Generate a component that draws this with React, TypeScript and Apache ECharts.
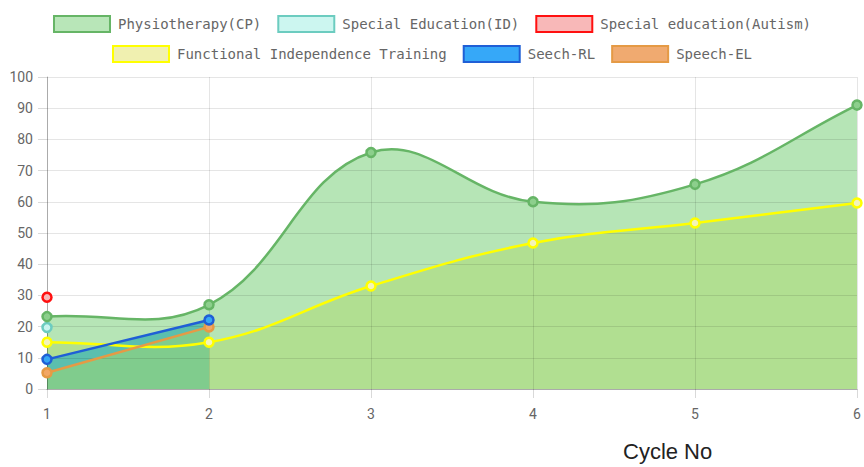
import React, { useEffect, useRef } from "react";
import * as echarts from "echarts";

const cycles = ["1", "2", "3", "4", "5", "6"];
const physiotherapyCP = [23.2, 27, 75.8, 60, 65.6, 91];
const specialEducationID = [19.7, null, null, null, null, null];
const specialEducationAutism = [29.4, null, null, null, null, null];
const functionalIndependence = [15, 15, 33, 46.8, 53.2, 59.6];
const seechRL = [9.5, 22.1, null, null, null, null];
const speechEL = [5.2, 19.9, null, null, null, null];
const yTicks = { min: 0, max: 100, interval: 10 };

const legendRow1 = ["Physiotherapy(CP)", "Special Education(ID)", "Special education(Autism)"];
const legendRow2 = ["Functional Independence Training", "Seech-RL", "Speech-EL"];

const styles: Record<string, { line: string; fill: string; box: string; area?: string }> = {
  "Physiotherapy(CP)": { line: "#66b566", fill: "#8ccf8c", box: "#b8e6b8", area: "#b6e5b6" },
  "Special Education(ID)": { line: "#6cccc0", fill: "#c9f5ef", box: "#ccf6f0" },
  "Special education(Autism)": { line: "#ff1010", fill: "#f8b8b8", box: "#f8b8b8" },
  "Functional Independence Training": { line: "#ffff00", fill: "#f4f4b8", box: "#f0f0b0", area: "#b1df91" },
  "Seech-RL": { line: "#1f5fd6", fill: "#36a7f5", box: "#36a8f8", area: "#5bbfae" },
  "Speech-EL": { line: "#e59a45", fill: "#f2a765", box: "#f0aa70", area: "#80cc8d" },
};

const TENSION = 0.4;

// Chart.js-style cardinal spline through points in pixel space
function splinePath(pts: number[][], t: number): string {
  const n = pts.length;
  const cpPrev: number[][] = [];
  const cpNext: number[][] = [];
  for (let i = 0; i < n; i++) {
    const cur = pts[i];
    const prev = pts[i - 1] || cur;
    const next = pts[i + 1] || cur;
    const d01 = Math.hypot(cur[0] - prev[0], cur[1] - prev[1]);
    const d12 = Math.hypot(next[0] - cur[0], next[1] - cur[1]);
    let s01 = d01 / (d01 + d12);
    let s12 = d12 / (d01 + d12);
    if (!isFinite(s01)) s01 = 0;
    if (!isFinite(s12)) s12 = 0;
    const fa = t * s01;
    const fb = t * s12;
    cpPrev.push([cur[0] - fa * (next[0] - prev[0]), cur[1] - fa * (next[1] - prev[1])]);
    cpNext.push([cur[0] + fb * (next[0] - prev[0]), cur[1] + fb * (next[1] - prev[1])]);
  }
  let d = `M${pts[0][0]},${pts[0][1]}`;
  for (let i = 1; i < n; i++) {
    d += ` C${cpNext[i - 1][0]},${cpNext[i - 1][1]} ${cpPrev[i][0]},${cpPrev[i][1]} ${pts[i][0]},${pts[i][1]}`;
  }
  return d;
}

function smoothSeries(name: string, values: number[], mode: "area" | "line", z: number) {
  return {
    type: "custom",
    name: mode + "-" + name,
    coordinateSystem: "cartesian2d",
    data: [[0, 0]],
    encode: { x: 0, y: 1 },
    z,
    silent: true,
    clip: false,
    renderItem: (_params: any, api: any) => {
      const pts = values.map((v, i) => api.coord([i, v]));
      const line = splinePath(pts, TENSION);
      if (mode === "area") {
        const base0 = api.coord([0, 0]);
        const baseN = api.coord([values.length - 1, 0]);
        const d = `${line} L${baseN[0]},${baseN[1]} L${base0[0]},${base0[1]} Z`;
        return { type: "path", shape: { pathData: d }, style: { fill: styles[name].area, stroke: null } };
      }
      return {
        type: "path",
        shape: { pathData: line },
        style: { fill: null, stroke: styles[name].line, lineWidth: 2.5 },
      };
    },
  };
}

function straightSeries(name: string, data: (number | null)[], withArea: boolean, z: number) {
  return {
    type: "line",
    name: withArea ? "area-" + name : name,
    data,
    z,
    symbol: withArea ? "none" : "circle",
    symbolSize: 9,
    showSymbol: !withArea,
    showAllSymbol: true,
    silent: withArea,
    lineStyle: withArea ? { width: 0, opacity: 0 } : { color: styles[name].line, width: 2.5 },
    areaStyle: withArea ? { color: styles[name].area, opacity: 1 } : undefined,
    itemStyle: { color: styles[name].fill, borderColor: styles[name].line, borderWidth: 2.5 },
  };
}

function symbolsOnly(name: string, data: (number | null)[]) {
  return {
    type: "line",
    name,
    data,
    z: 4,
    symbol: "circle",
    symbolSize: 9,
    showSymbol: true,
    showAllSymbol: true,
    lineStyle: { width: 0, opacity: 0 },
    itemStyle: { color: styles[name].fill, borderColor: styles[name].line, borderWidth: 2.5 },
  };
}

export default function App() {
  const ref = useRef<HTMLDivElement>(null);
  useEffect(() => {
    document.body.style.margin = "0";
    if (!ref.current) return;
    const chart = echarts.init(ref.current, null, { renderer: "svg" });

    const legendItem = (name: string) => ({
      name,
      itemStyle: { color: styles[name].box, borderColor: styles[name].line, borderWidth: 2 },
    });
    const legendBase = {
      left: "center",
      orient: "horizontal",
      padding: 0,
      icon: "rect",
      itemWidth: 56,
      itemHeight: 16,
      itemGap: 16,
      textStyle: {
        fontFamily: "DejaVu Sans Mono",
        fontSize: 14,
        color: "#666",
        padding: [0, 0, 0, 3],
      },
      selectedMode: false,
    };

    const series = [
      // areas (below axes/grid lines)
      smoothSeries("Physiotherapy(CP)", physiotherapyCP, "area", 1),
      smoothSeries("Functional Independence Training", functionalIndependence, "area", 1),
      straightSeries("Seech-RL", seechRL, true, 1),
      straightSeries("Speech-EL", speechEL, true, 1),
      // lines
      straightSeries("Speech-EL", speechEL, false, 3),
      straightSeries("Seech-RL", seechRL, false, 3),
      smoothSeries("Functional Independence Training", functionalIndependence, "line", 3),
      smoothSeries("Physiotherapy(CP)", physiotherapyCP, "line", 3),
      // point markers
      symbolsOnly("Functional Independence Training", functionalIndependence),
      symbolsOnly("Special education(Autism)", specialEducationAutism),
      symbolsOnly("Special Education(ID)", specialEducationID),
      symbolsOnly("Physiotherapy(CP)", physiotherapyCP),
    ];

    chart.setOption({
      animation: false,
      legend: [
        { ...legendBase, top: 15, data: legendRow1.map(legendItem) },
        { ...legendBase, top: 45, data: legendRow2.map(legendItem) },
      ],
      grid: { left: 47, right: 7, top: 77, bottom: 78, containLabel: false },
      xAxis: {
        type: "category",
        data: cycles,
        boundaryGap: false,
        z: 2,
        axisLine: { show: true, lineStyle: { color: "rgba(0,0,0,0.25)", width: 1 } },
        axisTick: { show: true, length: 9, alignWithLabel: true, lineStyle: { color: "rgba(0,0,0,0.15)" } },
        axisLabel: { margin: 18, fontFamily: "Roboto", fontSize: 14, color: "#666" },
        splitLine: { show: true, lineStyle: { color: "rgba(0,0,0,0.1)", width: 1 } },
      },
      yAxis: {
        type: "value",
        min: yTicks.min,
        max: yTicks.max,
        interval: yTicks.interval,
        z: 2,
        axisLine: { show: true, lineStyle: { color: "rgba(0,0,0,0.25)", width: 1 } },
        axisTick: { show: true, length: 9, lineStyle: { color: "rgba(0,0,0,0.15)" } },
        axisLabel: { margin: 14, fontFamily: "Roboto", fontSize: 14, color: "#666" },
        splitLine: { show: true, lineStyle: { color: "rgba(0,0,0,0.1)", width: 1 } },
      },
      graphic: [
        {
          type: "text",
          left: 623,
          top: 440,
          style: {
            text: "Cycle No",
            fontFamily: "Liberation Sans",
            fontSize: 22,
            fill: "#222",
          },
        },
      ],
      series,
    });
    return () => chart.dispose();
  }, []);
  return <div ref={ref} style={{ width: 864, height: 467 }} />;
}
